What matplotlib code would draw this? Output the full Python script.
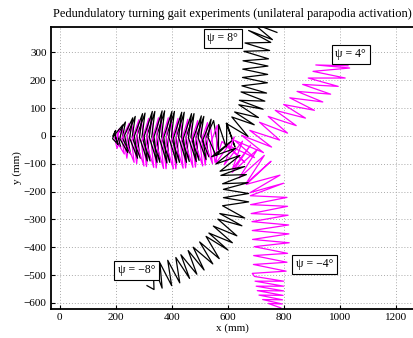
import matplotlib
matplotlib.use("Agg")
import matplotlib.pyplot as plt

# track vertices (mm)

# psi = 8 deg (black): straight part, turn, upward part
b1_x = [190, 200, 189, 218, 206, 235, 224, 253, 241, 270, 259, 288, 276, 305, 294, 323,
        311, 340, 329, 358, 346, 375, 364, 393, 381, 410, 399, 428, 416, 445, 434, 463,
        451, 480, 469, 498, 486, 515, 504, 533, 521, 550,
        567, 568, 596, 597, 626, 595, 673, 615, 695, 625, 710, 640, 727, 642, 733, 648,
        739, 651, 742, 653, 743, 654, 744, 655, 746, 658, 750, 662, 754, 675, 760, 690, 776]
b1_y = [0, 20, -10, -40, 5, 50, -8, -65, 3, 70, -5, -80, 1, 82, -4, -90,
        -1, 88, -3, -95, -2, 90, -2, -95, -3, 88, -3, -95, -5, 85, -3, -92,
        -6, 80, -4, -88, -9, 70, -2, -75, -10, 55,
        -49, 41, -44, 46, -39, 45, -2, 68, 40, 86, 66, 112, 96, 128, 125, 158,
        154, 180, 191, 210, 221, 240, 251, 270, 277, 304, 307, 334, 336, 379, 346, 405, 372]

# psi = -8 deg (black): straight part, then arc down to the lower left
b2_x = [197, 208, 197, 226, 215, 243, 232, 261, 250, 278, 267, 296, 285, 313, 302, 331,
        320, 348, 337, 366, 355, 383, 372, 401, 390, 418, 407, 436, 425, 453, 442, 471,
        460, 488, 477, 506, 495, 523, 512, 541, 530, 558,
        614, 543, 629, 558, 644, 573, 661, 576, 667, 582, 673, 585, 675, 585, 675, 582,
        661, 572, 651, 565, 633, 549, 617, 533, 601, 523, 570, 500, 547, 477, 516, 459,
        490, 433, 464, 415, 429, 386, 400, 358, 366, 334, 337, 312]
b2_y = [5, -30, 5, 40, -10, -60, 3, 65, -8, -80, 0, 80, -5, -90, -1, 88,
        -4, -95, -3, 90, -4, -97, -5, 88, -5, -97, -6, 85, -5, -95, -8, 80,
        -6, -92, -10, 72, -7, -85, -13, 60, -5, -70,
        -18, -75, -44, -101, -70, -127, -110, -142, -139, -172, -168, -192, -207, -222, -237, -251,
        -295, -279, -323, -299, -359, -324, -384, -349, -410, -361, -441, -381, -460, -400, -482, -412,
        -497, -427, -512, -437, -528, -447, -538, -456, -547, -461, -552, -538]

# psi = 4 deg (magenta): straight part, then up to the right
m1_x = [196, 205, 213, 222, 230, 240, 248, 257, 266, 275, 283, 292, 300, 310, 318, 327,
        336, 345, 353, 362, 370, 380, 388, 397, 406, 415, 423, 432, 440, 450, 458, 467,
        476, 485, 493, 502, 510, 520, 528, 537, 555,
        580, 661, 600, 696, 625, 728, 650, 757, 679, 786, 714, 814, 745, 845, 770, 878,
        800, 910, 822, 940, 848, 968, 868, 995, 888, 1020, 905, 1036, 915, 1030]
m1_y = [-5, -45, -22, 35, -15, -80, -25, 50, -20, -100, -25, 60, -22, -110, -25, 65,
        -25, -115, -27, 65, -27, -118, -27, 65, -28, -118, -27, 62, -28, -115, -27, 58,
        -30, -112, -27, 52, -30, -105, -25, 45, -95,
        -20, -95, -33, -78, -16, -60, 2, -40, 20, -15, 49, 10, 70, 37, 92, 64,
        113, 92, 137, 122, 160, 150, 185, 178, 208, 208, 232, 244, 255, 252]

# psi = -4 deg (magenta): straight part, then down
m2_x = [204, 213, 204, 231, 222, 248, 239, 266, 257, 283, 274, 301, 292, 318, 309, 336,
        327, 353, 344, 371, 362, 388, 379, 406, 397, 423, 414, 441, 432, 458, 449, 476,
        467, 493, 484, 511, 502, 528, 519, 546, 537, 563,
        559, 624, 588, 653, 617, 682, 616, 706, 641, 731, 665, 755, 667, 787, 680, 800,
        681, 812, 682, 814, 684, 816, 687, 818, 688, 819, 689, 820, 695, 814, 693, 812,
        692, 809, 688, 696, 800, 698, 800, 702, 800, 706, 798, 712, 796, 725, 795, 745, 790]
m2_y = [0, 25, -20, -65, -10, 45, -25, -95, -18, 58, -25, -108, -22, 63, -25, -113,
        -24, 65, -26, -117, -26, 65, -27, -118, -27, 63, -27, -116, -28, 60, -27, -113,
        -29, 55, -27, -108, -30, 48, -26, -100, -31, 38,
        -97, -4, -104, -19, -119, -33, -131, -49, -151, -70, -172, -91, -174, -141, -204, -170,
        -215, -221, -247, -253, -279, -285, -308, -320, -340, -352, -372, -384, -398, -422, -430, -454,
        -462, -486, -494, -505, -522, -522, -540, -540, -557, -556, -573, -572, -589, -588, -604, -602, -618]

labels = ["ψ = 8°", "ψ = 4°", "ψ = −4°", "ψ = −8°"]
label_x = [582, 1040, 911, 275]
label_y = [351, 294, -462, -483]

x_ticks = [0, 200, 400, 600, 800, 1000, 1200]
y_ticks = [-600, -500, -400, -300, -200, -100, 0, 100, 200, 300]

plt.rcParams["font.family"] = ["Liberation Serif", "DejaVu Serif"]

fig = plt.figure(figsize=(4.14, 3.38), dpi=100)
ax = fig.add_axes([0.1225, 0.0858, 0.879, 0.834])

ax.plot(m1_x, m1_y, color="#ff00ff", lw=0.9)
ax.plot(b1_x, b1_y, color="black", lw=0.9)
ax.plot(m2_x, m2_y, color="#ff00ff", lw=0.9)
ax.plot(b2_x, b2_y, color="black", lw=0.9)

for txt, lx, ly in zip(labels, label_x, label_y):
    ax.text(lx, ly, txt, fontsize=8.5, ha="center", va="center",
            bbox=dict(boxstyle="square,pad=0.3", fc="white", ec="black", lw=0.8))

ax.set_xlim(-32, 1268)
ax.set_ylim(-622, 391)
ax.set_xticks(x_ticks)
ax.set_yticks(y_ticks)
ax.tick_params(direction="in", length=3, labelsize=8, pad=3)
ax.grid(True, color="#aaaaaa", linestyle=(0, (1, 2)), lw=0.7)
for s in ax.spines.values():
    s.set_linewidth(1.3)

ax.set_xlabel("x (mm)", fontsize=8, labelpad=1)
ax.set_ylabel("y (mm)", fontsize=8, labelpad=1)
ax.set_title("Pedundulatory turning gait experiments (unilateral parapodia activation)",
             fontsize=8.9, pad=7)

fig.savefig("out.png", dpi=100)
